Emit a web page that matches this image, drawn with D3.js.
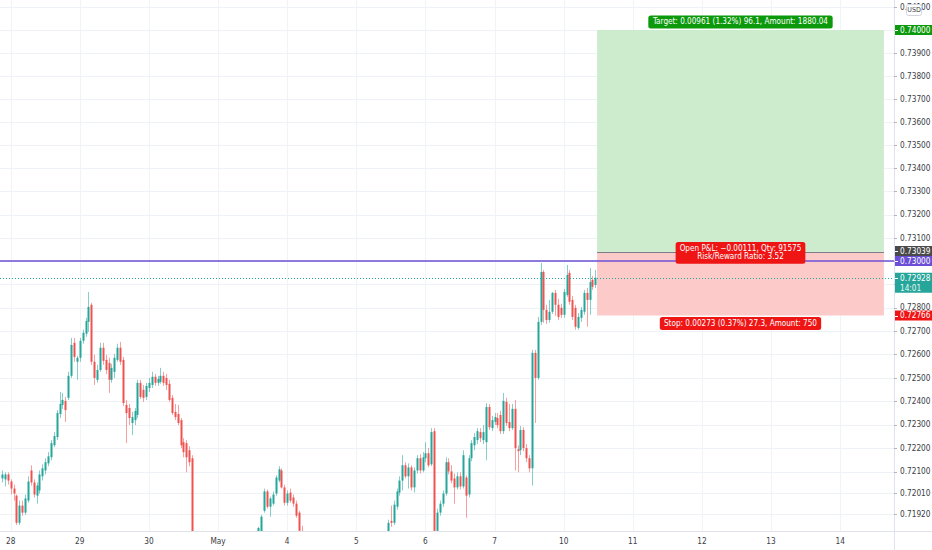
<!DOCTYPE html>
<html>
<head>
<meta charset="utf-8">
<script src="https://cdn.jsdelivr.net/npm/d3@7"></script>
<style>
  body { margin: 0; background: #fff; }
  svg { display: block; font-family: 'Liberation Sans Narrow', 'Arial Narrow', 'DejaVu Sans Condensed', sans-serif; }
</style>
</head>
<body>
<svg id="chart" width="932" height="550"></svg>
<script>
// hourly candles, [open, high, low, close], grouped by trading day
const apr27 = [
  [0.72071, 0.72105, 0.72054, 0.72088], [0.72067, 0.72097, 0.72037, 0.72088], [0.72088, 0.72097, 0.72045, 0.72062]
];
const apr28 = [
  [0.72058, 0.72067, 0.72003, 0.72028], [0.72028, 0.72045, 0.71977, 0.72007], [0.71998, 0.72003, 0.71874, 0.71883],
  [0.71883, 0.71977, 0.71874, 0.71956], [0.71956, 0.71977, 0.71913, 0.71926], [0.71926, 0.72003, 0.71917, 0.71986],
  [0.71977, 0.72080, 0.71968, 0.72058], [0.72105, 0.72127, 0.72041, 0.72054], [0.72054, 0.72067, 0.71990, 0.72003],
  [0.71998, 0.72054, 0.71964, 0.72041], [0.72020, 0.72105, 0.72007, 0.72088], [0.72080, 0.72131, 0.72062, 0.72114],
  [0.72105, 0.72157, 0.72088, 0.72140], [0.72135, 0.72183, 0.72123, 0.72165], [0.72161, 0.72234, 0.72148, 0.72221],
  [0.72212, 0.72268, 0.72204, 0.72251], [0.72247, 0.72362, 0.72234, 0.72349], [0.72345, 0.72439, 0.72328, 0.72388],
  [0.72384, 0.72435, 0.72367, 0.72405], [0.72401, 0.72418, 0.72311, 0.72362], [0.72414, 0.72525, 0.72405, 0.72508],
  [0.72508, 0.72670, 0.72499, 0.72640], [0.72649, 0.72670, 0.72568, 0.72589], [0.72568, 0.72593, 0.72491, 0.72585]
];
const apr29 = [
  [0.72585, 0.72670, 0.72568, 0.72658], [0.72658, 0.72705, 0.72645, 0.72692], [0.72688, 0.72756, 0.72675, 0.72743],
  [0.72739, 0.72867, 0.72696, 0.72803], [0.72812, 0.72820, 0.72555, 0.72568], [0.72568, 0.72598, 0.72469, 0.72499],
  [0.72491, 0.72555, 0.72478, 0.72533], [0.72533, 0.72649, 0.72525, 0.72628], [0.72628, 0.72649, 0.72555, 0.72572],
  [0.72576, 0.72598, 0.72516, 0.72533], [0.72563, 0.72585, 0.72435, 0.72491], [0.72491, 0.72559, 0.72478, 0.72542],
  [0.72525, 0.72602, 0.72499, 0.72585], [0.72576, 0.72645, 0.72568, 0.72628], [0.72628, 0.72653, 0.72555, 0.72568],
  [0.72576, 0.72589, 0.72379, 0.72392], [0.72384, 0.72405, 0.72221, 0.72349], [0.72371, 0.72388, 0.72298, 0.72328],
  [0.72307, 0.72354, 0.72255, 0.72332], [0.72319, 0.72371, 0.72298, 0.72358], [0.72341, 0.72491, 0.72328, 0.72478],
  [0.72478, 0.72491, 0.72409, 0.72418], [0.72448, 0.72469, 0.72397, 0.72414], [0.72418, 0.72478, 0.72405, 0.72465]
];
const apr30 = [
  [0.72456, 0.72499, 0.72439, 0.72478], [0.72469, 0.72525, 0.72456, 0.72504], [0.72504, 0.72516, 0.72465, 0.72478],
  [0.72478, 0.72508, 0.72465, 0.72495], [0.72482, 0.72542, 0.72474, 0.72508], [0.72508, 0.72525, 0.72465, 0.72478],
  [0.72499, 0.72516, 0.72448, 0.72469], [0.72474, 0.72491, 0.72397, 0.72405], [0.72414, 0.72426, 0.72341, 0.72349],
  [0.72354, 0.72388, 0.72319, 0.72332], [0.72345, 0.72384, 0.72298, 0.72307], [0.72319, 0.72328, 0.72200, 0.72212],
  [0.72225, 0.72242, 0.72161, 0.72183], [0.72221, 0.72234, 0.72097, 0.72161], [0.72191, 0.72208, 0.72123, 0.72140],
  [0.72157, 0.72170, 0.71640, 0.71680], [0.71680, 0.71760, 0.71650, 0.71730], [0.71730, 0.71790, 0.71700, 0.71770],
  [0.71770, 0.71800, 0.71720, 0.71740], [0.71740, 0.71780, 0.71690, 0.71710], [0.71710, 0.71760, 0.71670, 0.71740],
  [0.71740, 0.71810, 0.71720, 0.71790], [0.71790, 0.71820, 0.71750, 0.71760], [0.71760, 0.71800, 0.71710, 0.71730]
];
const may1 = [
  [0.71730, 0.71770, 0.71680, 0.71700], [0.71700, 0.71740, 0.71650, 0.71720], [0.71720, 0.71780, 0.71700, 0.71760],
  [0.71760, 0.71800, 0.71730, 0.71750], [0.71750, 0.71790, 0.71710, 0.71770], [0.71770, 0.71815, 0.71740, 0.71790],
  [0.71790, 0.71820, 0.71740, 0.71760], [0.71760, 0.71780, 0.71700, 0.71720], [0.71720, 0.71750, 0.71670, 0.71690],
  [0.71690, 0.71730, 0.71640, 0.71710], [0.71710, 0.71760, 0.71690, 0.71740], [0.71740, 0.71790, 0.71720, 0.71770],
  [0.71770, 0.71810, 0.71740, 0.71790], [0.71790, 0.71825, 0.71760, 0.71800], [0.71810, 0.71866, 0.71800, 0.71861],
  [0.71844, 0.71917, 0.71827, 0.71909], [0.71934, 0.72028, 0.71926, 0.72016], [0.72016, 0.72024, 0.71943, 0.71951],
  [0.71951, 0.71994, 0.71909, 0.71986], [0.71964, 0.72016, 0.71956, 0.72003], [0.72007, 0.72084, 0.71998, 0.72075],
  [0.72062, 0.72123, 0.72054, 0.72110], [0.72105, 0.72114, 0.72028, 0.72033], [0.72033, 0.72045, 0.71956, 0.71968]
];
const may4 = [
  [0.71968, 0.72020, 0.71956, 0.72007], [0.72011, 0.72028, 0.71968, 0.71977], [0.71990, 0.72003, 0.71951, 0.71964],
  [0.71964, 0.71977, 0.71904, 0.71913], [0.71926, 0.71934, 0.71806, 0.71849], [0.71849, 0.71870, 0.71790, 0.71827],
  [0.71827, 0.71830, 0.71760, 0.71780], [0.71780, 0.71800, 0.71720, 0.71740], [0.71740, 0.71770, 0.71700, 0.71760],
  [0.71760, 0.71790, 0.71730, 0.71750], [0.71750, 0.71780, 0.71710, 0.71720], [0.71720, 0.71760, 0.71690, 0.71740],
  [0.71740, 0.71780, 0.71720, 0.71770], [0.71770, 0.71800, 0.71740, 0.71760], [0.71760, 0.71790, 0.71720, 0.71730],
  [0.71730, 0.71750, 0.71680, 0.71700], [0.71700, 0.71730, 0.71660, 0.71710], [0.71710, 0.71750, 0.71690, 0.71730],
  [0.71730, 0.71760, 0.71700, 0.71720], [0.71720, 0.71740, 0.71670, 0.71690], [0.71690, 0.71720, 0.71650, 0.71700],
  [0.71700, 0.71740, 0.71680, 0.71720], [0.71720, 0.71760, 0.71700, 0.71740], [0.71740, 0.71770, 0.71710, 0.71730]
];
const may5 = [
  [0.71730, 0.71760, 0.71690, 0.71710], [0.71710, 0.71740, 0.71670, 0.71720], [0.71720, 0.71770, 0.71700, 0.71750],
  [0.71750, 0.71790, 0.71730, 0.71770], [0.71770, 0.71800, 0.71740, 0.71760], [0.71760, 0.71780, 0.71720, 0.71740],
  [0.71740, 0.71790, 0.71720, 0.71780], [0.71780, 0.71810, 0.71750, 0.71790], [0.71790, 0.71820, 0.71760, 0.71780],
  [0.71780, 0.71815, 0.71750, 0.71800], [0.71800, 0.71830, 0.71770, 0.71810], [0.71827, 0.71896, 0.71814, 0.71883],
  [0.71891, 0.71956, 0.71866, 0.71883], [0.71883, 0.71977, 0.71874, 0.71960], [0.71951, 0.72028, 0.71939, 0.72016],
  [0.72011, 0.72080, 0.71998, 0.72062], [0.72062, 0.72170, 0.72020, 0.72127], [0.72127, 0.72140, 0.72071, 0.72080],
  [0.72080, 0.72135, 0.72028, 0.72118], [0.72118, 0.72127, 0.72020, 0.72033], [0.72033, 0.72118, 0.72011, 0.72105],
  [0.72105, 0.72170, 0.72092, 0.72157], [0.72157, 0.72174, 0.72092, 0.72105], [0.72105, 0.72183, 0.72097, 0.72161]
];
const may6 = [
  [0.72157, 0.72225, 0.72140, 0.72178], [0.72178, 0.72200, 0.72118, 0.72127], [0.72131, 0.72285, 0.72123, 0.72268],
  [0.72272, 0.72285, 0.71818, 0.71849], [0.71849, 0.71943, 0.71823, 0.71926], [0.71926, 0.71977, 0.71913, 0.71964],
  [0.71964, 0.72020, 0.71951, 0.72007], [0.72007, 0.72161, 0.71998, 0.72140], [0.72140, 0.72157, 0.72088, 0.72101],
  [0.72101, 0.72127, 0.72050, 0.72062], [0.72071, 0.72092, 0.71964, 0.72033], [0.72033, 0.72097, 0.72024, 0.72080],
  [0.72080, 0.72097, 0.72024, 0.72037], [0.72037, 0.72191, 0.72028, 0.72170], [0.72075, 0.72084, 0.71904, 0.71998],
  [0.72003, 0.72170, 0.71990, 0.72157], [0.72157, 0.72234, 0.72144, 0.72221], [0.72212, 0.72264, 0.72191, 0.72247],
  [0.72234, 0.72285, 0.72217, 0.72272], [0.72268, 0.72285, 0.72225, 0.72242], [0.72234, 0.72298, 0.72217, 0.72268],
  [0.72225, 0.72392, 0.72148, 0.72375], [0.72375, 0.72388, 0.72277, 0.72289], [0.72285, 0.72337, 0.72272, 0.72319]
];
const may7 = [
  [0.72311, 0.72349, 0.72298, 0.72332], [0.72328, 0.72349, 0.72285, 0.72298], [0.72341, 0.72358, 0.72260, 0.72272],
  [0.72272, 0.72435, 0.72260, 0.72401], [0.72397, 0.72414, 0.72294, 0.72307], [0.72311, 0.72388, 0.72272, 0.72285],
  [0.72285, 0.72388, 0.72277, 0.72367], [0.72367, 0.72405, 0.72105, 0.72200], [0.72195, 0.72212, 0.72097, 0.72187],
  [0.72191, 0.72294, 0.72170, 0.72277], [0.72277, 0.72289, 0.72187, 0.72200], [0.72200, 0.72217, 0.72140, 0.72157],
  [0.72157, 0.72170, 0.72097, 0.72114], [0.72114, 0.72619, 0.72041, 0.72606], [0.72606, 0.72619, 0.72307, 0.72499],
  [0.72499, 0.72760, 0.72491, 0.72739], [0.72739, 0.72991, 0.72726, 0.72953], [0.72953, 0.72961, 0.72735, 0.72790],
  [0.72790, 0.72812, 0.72730, 0.72747], [0.72747, 0.72833, 0.72735, 0.72782], [0.72782, 0.72867, 0.72773, 0.72863],
  [0.72863, 0.72876, 0.72765, 0.72812], [0.72812, 0.72837, 0.72747, 0.72760], [0.72799, 0.72816, 0.72756, 0.72769]
];
const may10 = [
  [0.72769, 0.72880, 0.72756, 0.72867], [0.72854, 0.72983, 0.72846, 0.72940], [0.72949, 0.72961, 0.72812, 0.72825],
  [0.72833, 0.72850, 0.72747, 0.72760], [0.72799, 0.72812, 0.72705, 0.72718], [0.72713, 0.72777, 0.72705, 0.72760],
  [0.72756, 0.72803, 0.72739, 0.72790], [0.72782, 0.72876, 0.72769, 0.72863], [0.72863, 0.72884, 0.72718, 0.72833],
  [0.72833, 0.72970, 0.72769, 0.72910], [0.72919, 0.72936, 0.72876, 0.72889], [0.72897, 0.72961, 0.72884, 0.72928]
];

// time axis: one label per 24 hourly bars, the first one on bar 3
const dayLabels = ['28', '29', '30', 'May', '4', '5', '6', '7', '10', '11', '12', '13', '14'];
const firstDayBar = 3;
const barsPerDay = 24;

// price axis (log scale)
const priceTicks = [0.741, 0.740, 0.739, 0.738, 0.737, 0.736, 0.735, 0.734, 0.733, 0.732, 0.731, 0.730,
  0.729, 0.728, 0.727, 0.726, 0.725, 0.724, 0.723, 0.722, 0.721, 0.7201, 0.7192];

// long position tool and horizontal line
const entryPrice = 0.73039;
const targetPrice = 0.74000;
const stopPrice = 0.72766;
const hlinePrice = 0.73000;
const lastPrice = 0.72928;
const positionBars = [206.6, 306.2];
const targetText = ['Target: 0.00961 (1.32%) 96.1, Amount: 1880.04'];
const pnlText = ['Open P&L: \u22120.00111, Qty: 91575', 'Risk/Reward Ratio: 3.52'];
const stopText = ['Stop: 0.00273 (0.37%) 27.3, Amount: 750'];
const countdown = '14:01';

// ---------------------------------------------------------------
const upColor = '#26a69a', downColor = '#ef5350';
const green = '#0c990c', red = '#f01515', purple = '#6b4fd6', entryGrey = '#4a4a4a';
const plotW = 894, plotH = 531;

const candles = [].concat(apr27, apr28, apr29, apr30, may1, may4, may5, may6, may7, may10)
  .map((d, i) => ({ i: i, o: d[0], h: d[1], l: d[2], c: d[3] }));

const svg = d3.select('#chart');

const x = d3.scaleLinear().domain([-0.7, 309.7]).range([0, plotW]);
const y = d3.scaleLog().domain([0.74, 0.73]).range([30, 261]);
const fmt = d3.format('.5f');
const px = v => Math.round(v) + 0.5;

svg.append('defs').append('clipPath').attr('id', 'plot')
  .append('rect').attr('width', plotW).attr('height', plotH);

// grid
const grid = svg.append('g').attr('clip-path', 'url(#plot)');
grid.selectAll('.hgrid')
  .data(priceTicks)
  .join('line')
  .attr('class', 'hgrid')
  .attr('x1', 0).attr('x2', plotW)
  .attr('y1', d => px(y(d))).attr('y2', d => px(y(d)))
  .attr('stroke', '#eef1f6');
grid.selectAll('.vgrid')
  .data(dayLabels)
  .join('line')
  .attr('class', 'vgrid')
  .attr('x1', (d, k) => px(x(firstDayBar + k * barsPerDay)))
  .attr('x2', (d, k) => px(x(firstDayBar + k * barsPerDay)))
  .attr('y1', 0).attr('y2', plotH)
  .attr('stroke', '#f1f3f7');

// position tool areas
const tool = svg.append('g').attr('clip-path', 'url(#plot)');
const tx0 = x(positionBars[0]), tx1 = x(positionBars[1]);
tool.append('rect')
  .attr('x', tx0).attr('width', tx1 - tx0)
  .attr('y', y(targetPrice)).attr('height', y(entryPrice) - y(targetPrice))
  .attr('fill', '#cdeccd');
tool.append('rect')
  .attr('x', tx0).attr('width', tx1 - tx0)
  .attr('y', y(entryPrice)).attr('height', y(stopPrice) - y(entryPrice))
  .attr('fill', '#fdcaca');
tool.append('line')
  .attr('x1', tx0).attr('x2', tx1)
  .attr('y1', px(y(entryPrice))).attr('y2', px(y(entryPrice)))
  .attr('stroke', '#7a7d86');

// candles
const chart = svg.append('g').attr('clip-path', 'url(#plot)');
chart.selectAll('.wick')
  .data(candles)
  .join('line')
  .attr('class', 'wick')
  .attr('x1', d => px(x(d.i))).attr('x2', d => px(x(d.i)))
  .attr('y1', d => y(d.h)).attr('y2', d => y(d.l))
  .attr('stroke', d => d.c >= d.o ? upColor : downColor)
  .attr('stroke-opacity', 0.55);
chart.selectAll('.body')
  .data(candles)
  .join('rect')
  .attr('class', 'body')
  .attr('x', d => Math.round(x(d.i)) - 0.5)
  .attr('width', 2)
  .attr('y', d => y(Math.max(d.o, d.c)))
  .attr('height', d => Math.max(1, y(Math.min(d.o, d.c)) - y(Math.max(d.o, d.c))))
  .attr('fill', d => d.c >= d.o ? upColor : downColor);

// current price dotted line and horizontal line
svg.append('line')
  .attr('x1', 0).attr('x2', plotW)
  .attr('y1', px(y(lastPrice))).attr('y2', px(y(lastPrice)))
  .attr('stroke', upColor).attr('stroke-dasharray', '1,2');
svg.append('line')
  .attr('x1', 0).attr('x2', plotW)
  .attr('y1', y(hlinePrice)).attr('y2', y(hlinePrice))
  .attr('stroke', purple).attr('stroke-width', 1.4);

// labels of the position tool
function noteBox(lines, cx, anchorY, place, fill) {
  const g = svg.append('g');
  const lh = 8.6;
  const txt = g.append('text')
    .attr('font-size', 8.1)
    .attr('fill', '#fff')
    .attr('text-anchor', 'middle');
  lines.forEach((s, k) => txt.append('tspan').attr('x', cx).attr('dy', k ? lh : 0).text(s));
  const bb = txt.node().getBBox();
  const bw = bb.width + 8, bh = lines.length * lh + 4.5;
  let top;
  if (place === 'above') top = anchorY - bh - 1.5;
  else if (place === 'below') top = anchorY + 1.5;
  else top = anchorY - bh / 2;
  txt.attr('y', top + 8.8);
  txt.select('tspan').attr('y', top + 8.8);
  g.insert('rect', 'text')
    .attr('x', cx - bw / 2).attr('y', top)
    .attr('width', bw).attr('height', bh)
    .attr('rx', 2.5).attr('fill', fill);
}
const tcx = (tx0 + tx1) / 2;
noteBox(targetText, tcx, y(targetPrice), 'above', green);
noteBox(pnlText, tcx, y(entryPrice) + 1, 'middle', red);
noteBox(stopText, tcx, y(stopPrice), 'below', red);

// axes borders
svg.append('line').attr('x1', 0).attr('x2', 932).attr('y1', plotH + 0.5).attr('y2', plotH + 0.5).attr('stroke', '#e0e3eb');
svg.append('line').attr('x1', plotW + 0.5).attr('x2', plotW + 0.5).attr('y1', 0).attr('y2', 550).attr('stroke', '#e0e3eb');

// coloured price markers on the axis (placed first so plain labels under them can be dropped)
const markers = [
  { price: targetPrice, color: green },
  { price: entryPrice, color: entryGrey },
  { price: hlinePrice, color: purple },
  { price: lastPrice, color: upColor, sub: countdown },
  { price: stopPrice, color: red }
].map(m => Object.assign(m, { cy: y(m.price) }));
markers.sort((a, b) => a.cy - b.cy);
for (let k = markers.length - 2; k >= 0; k--) {
  const gap = (markers[k + 1].cy - 5) - (markers[k].cy + (markers[k].sub ? 15 : 5));
  if (gap < 0) markers[k].cy += gap;
}
const covered = v => markers.some(m => y(v) > m.cy - 7 && y(v) < m.cy + (m.sub ? 17 : 7));

// price axis ticks and labels
const yAxis = svg.append('g').attr('font-size', 8.2).attr('fill', '#3a3d45');
yAxis.selectAll('.ytick')
  .data(priceTicks)
  .join('line')
  .attr('class', 'ytick')
  .attr('x1', plotW).attr('x2', plotW + 3)
  .attr('y1', d => px(y(d))).attr('y2', d => px(y(d)))
  .attr('stroke', '#b2b5be');
yAxis.selectAll('.ylabel')
  .data(priceTicks.filter(v => !covered(v)))
  .join('text')
  .attr('class', 'ylabel')
  .attr('x', plotW + 6)
  .attr('y', d => y(d))
  .attr('dy', '0.35em')
  .text(d => fmt(d));

// time axis labels
svg.append('g').attr('font-size', 8.2).attr('fill', '#3a3d45')
  .selectAll('text')
  .data(dayLabels)
  .join('text')
  .attr('x', (d, k) => x(firstDayBar + k * barsPerDay))
  .attr('y', 544)
  .attr('text-anchor', 'middle')
  .text(d => d);

const mg = svg.append('g').attr('font-size', 8.2);
markers.forEach(m => {
  mg.append('rect')
    .attr('x', plotW + 1).attr('y', m.cy - 5)
    .attr('width', 932 - plotW).attr('height', m.sub ? 20 : 10)
    .attr('fill', m.color);
  mg.append('line')
    .attr('x1', plotW + 1).attr('x2', plotW + 4)
    .attr('y1', px(m.cy)).attr('y2', px(m.cy))
    .attr('stroke', '#fff');
  mg.append('text')
    .attr('x', plotW + 6).attr('y', m.cy).attr('dy', '0.35em')
    .attr('fill', '#fff').text(fmt(m.price));
  if (m.sub) {
    mg.append('text')
      .attr('x', plotW + 6).attr('y', m.cy + 10).attr('dy', '0.35em')
      .attr('fill', '#e8f6f4').text(m.sub);
  }
});

// currency badge
const badge = svg.append('g');
badge.append('rect')
  .attr('x', 906.5).attr('y', 4.5).attr('width', 15).attr('height', 11).attr('rx', 2)
  .attr('fill', '#fff').attr('stroke', '#d1d4dc');
badge.append('text')
  .attr('x', 914).attr('y', 10).attr('dy', '0.35em')
  .attr('text-anchor', 'middle').attr('font-size', 7).attr('fill', '#3a3d45')
  .text('USD');
</script>
</body>
</html>
